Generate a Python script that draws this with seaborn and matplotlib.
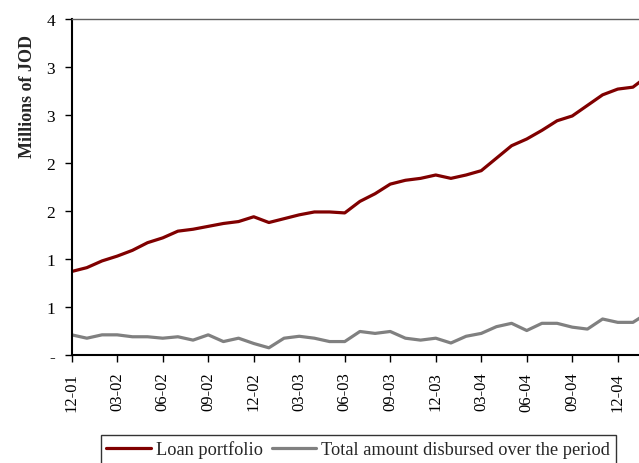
import numpy as np
import pandas as pd
import matplotlib
matplotlib.use("Agg")
import matplotlib.pyplot as plt
import seaborn as sns
from matplotlib.lines import Line2D

months = ["12-01", "01-02", "02-02", "03-02", "04-02", "05-02", "06-02", "07-02", "08-02",
          "09-02", "10-02", "11-02", "12-02", "01-03", "02-03", "03-03", "04-03", "05-03",
          "06-03", "07-03", "08-03", "09-03", "10-03", "11-03", "12-03", "01-04", "02-04",
          "03-04", "04-04", "05-04", "06-04", "07-04", "08-04", "09-04", "10-04", "11-04",
          "12-04", "01-05", "02-05"]

loan_portfolio = [0.87, 0.91, 0.98, 1.03, 1.09, 1.17, 1.22, 1.29, 1.31, 1.34, 1.37, 1.39,
                  1.44, 1.38, 1.42, 1.46, 1.49, 1.49, 1.48, 1.60, 1.68, 1.78, 1.82, 1.84,
                  1.875, 1.84, 1.875, 1.92, 2.05, 2.18, 2.25, 2.34, 2.44, 2.49, 2.60, 2.71,
                  2.77, 2.79, 2.91]

disbursed = [0.21, 0.175, 0.21, 0.21, 0.19, 0.19, 0.175, 0.19, 0.155, 0.21, 0.14, 0.175,
             0.12, 0.075, 0.175, 0.195, 0.175, 0.14, 0.14, 0.245, 0.225, 0.245, 0.175, 0.155,
             0.175, 0.125, 0.195, 0.225, 0.295, 0.33, 0.255, 0.33, 0.33, 0.29, 0.27, 0.375,
             0.34, 0.34, 0.44]

series_names = ["Loan portfolio", "Total amount disbursed over the period"]
colors = ["#800000", "#808080"]

tick_labels = ["12-01", "03-02", "06-02", "09-02", "12-02", "03-03", "06-03",
               "09-03", "12-03", "03-04", "06-04", "09-04", "12-04"]
y_ticks = [0, 0.5, 1.0, 1.5, 2.0, 2.5, 3.0, 3.5]
y_tick_labels = ["-", "1", "1", "2", "2", "3", "3", "4"]

df = pd.DataFrame({
    "idx": list(range(len(months))) * 2,
    "value": loan_portfolio + disbursed,
    "series": [series_names[0]] * len(months) + [series_names[1]] * len(months),
})

sns.set_theme(style="white")
plt.rcParams["font.family"] = ["Liberation Serif", "DejaVu Serif"]

fig = plt.figure(figsize=(6.39, 4.64), dpi=100)
ax = fig.add_axes([71.7 / 639, 1 - 356 / 464, 1 - 71.7 / 639, (356 - 20) / 464])

sns.lineplot(data=df, x="idx", y="value", hue="series",
             palette=dict(zip(series_names, colors)), linewidth=2.3, ax=ax, legend=False)

ax.set_xlim(0, 37.4)
ax.set_ylim(0, 3.5)
ax.set_xlabel("")
ax.set_ylabel("")

tick_pos = [months.index(t) for t in tick_labels]
ax.set_xticks(tick_pos)
ax.set_xticklabels(tick_labels, rotation=90, fontsize=12)
ax.set_yticks(y_ticks)
ax.set_yticklabels(y_tick_labels, fontsize=12.5)
ax.tick_params(axis="both", direction="out", length=5, width=1, color="black",
               pad=7, labelcolor="black")
ax.tick_params(axis="x", bottom=True)
ax.tick_params(axis="y", left=True)

for side in ["left", "bottom"]:
    ax.spines[side].set_color("black")
    ax.spines[side].set_linewidth(1.5)
ax.spines["top"].set_color("#606060")
ax.spines["top"].set_linewidth(1.0)
ax.spines["right"].set_visible(False)

fig.text(28 / 639, 1 - 96 / 464, "Millions of JOD", rotation=90, fontsize=13,
         fontweight="bold", ha="center", va="center")

handles = [Line2D([0], [0], color=c, lw=2.3) for c in colors]
leg = fig.legend(handles, series_names, loc="upper left",
                 bbox_to_anchor=(100.7 / 639, 1 - 435.7 / 464), ncol=2,
                 fontsize=13.2, frameon=True, fancybox=False, handlelength=2.45,
                 handletextpad=0.27, columnspacing=0.46, borderpad=0.3,
                 borderaxespad=0)
leg.get_frame().set_edgecolor("black")
leg.get_frame().set_linewidth(1.0)

fig.savefig("out.png", dpi=100)
